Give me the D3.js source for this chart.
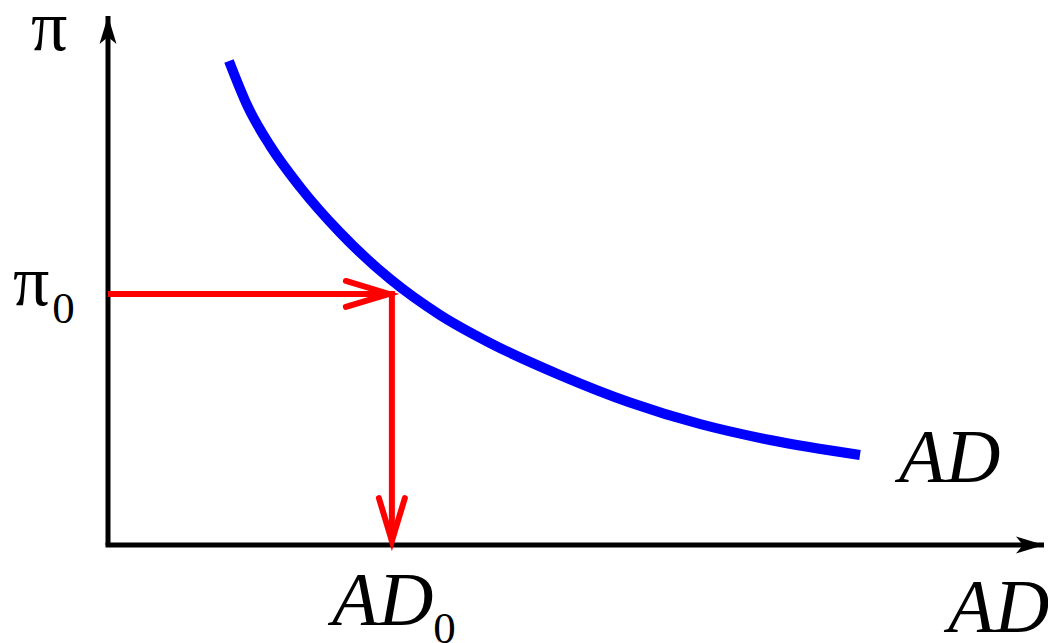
<!DOCTYPE html>
<html>
<head>
<meta charset="utf-8">
<script src="https://cdn.jsdelivr.net/npm/d3@7"></script>
<style>
  body { margin: 0; background: #fff; }
  text { font-family: "Liberation Serif", "Times New Roman", serif; }
</style>
</head>
<body>
<script>
// AD curve (arbitrary units 0..100)
const adX = [12.87, 14.89, 17.23, 20.43, 24.68, 30.0, 35.32, 40.64, 48.09, 55.53, 62.98, 70.43, 80.0];
const adY = [90.81, 82.18, 74.95, 67.17, 58.63, 49.91, 43.15, 37.90, 31.89, 26.74, 22.70, 19.70, 16.89];

const pi0 = 47.1;   // inflation level
const ad0 = 30.2;   // demand at pi0

const width = 1048, height = 643;

const x = d3.scaleLinear().domain([0, 100]).range([108, 1048]);
const y = d3.scaleLinear().domain([0, 100]).range([545, 12]);

const svg = d3.select("body").append("svg")
    .attr("width", width)
    .attr("height", height);

const defs = svg.append("defs");
defs.append("marker")
    .attr("id", "axisHead")
    .attr("markerUnits", "userSpaceOnUse")
    .attr("viewBox", "-30 -10 32 20")
    .attr("refX", 0).attr("refY", 0)
    .attr("markerWidth", 32).attr("markerHeight", 20)
    .attr("orient", "auto")
  .append("path")
    .attr("d", "M0,0 L-28,-8.5 L-21,0 L-28,8.5 Z")
    .attr("fill", "#000");

// axes
svg.append("line")
    .attr("x1", x(0)).attr("y1", y(0))
    .attr("x2", x(0)).attr("y2", y(100) + 4)
    .attr("stroke", "#000").attr("stroke-width", 5)
    .attr("marker-end", "url(#axisHead)");

svg.append("line")
    .attr("x1", x(0) - 2.5).attr("y1", y(0))
    .attr("x2", x(100) - 4).attr("y2", y(0))
    .attr("stroke", "#000").attr("stroke-width", 5)
    .attr("marker-end", "url(#axisHead)");

// AD curve
const line = d3.line()
    .x(function(d) { return x(d[0]); })
    .y(function(d) { return y(d[1]); })
    .curve(d3.curveMonotoneX);

svg.append("path")
    .datum(d3.zip(adX, adY))
    .attr("d", line)
    .attr("fill", "none")
    .attr("stroke", "#0000ff")
    .attr("stroke-width", 10);

// red guides with open arrow heads
const red = svg.append("g")
    .attr("stroke", "#ff0000")
    .attr("stroke-width", 6)
    .attr("fill", "none");

red.append("path")
    .attr("d", "M" + x(0) + "," + y(pi0) + "H" + x(ad0));
red.append("path")
    .attr("d", "M" + x(ad0) + "," + (y(pi0) - 3) + "V" + (y(0) - 3));

function chevron(tx, ty, dx, dy) {
  // tip at (tx,ty), pointing along (dx,dy)
  const len = 43, half = 13;
  const px = -dy, py = dx;
  const bx = tx - dx * len, by = ty - dy * len;
  return "M" + (bx + px * half) + "," + (by + py * half) +
         "L" + tx + "," + ty +
         "L" + (bx - px * half) + "," + (by - py * half);
}

red.append("path")
    .attr("d", chevron(x(ad0) - 3, y(pi0), 1, 0))
    .attr("stroke-linecap", "round");
red.append("path")
    .attr("d", chevron(x(ad0), y(0) - 4, 0, 1))
    .attr("stroke-linecap", "round");

// labels
svg.append("text")
    .attr("x", 31).attr("y", 50)
    .attr("font-size", 72)
    .text("π");

const p0 = svg.append("text")
    .attr("x", 13).attr("y", 305)
    .attr("font-size", 72);
p0.append("tspan").text("π");
p0.append("tspan").attr("font-size", 45).attr("dx", 3).attr("dy", 18).text("0");

const a0 = svg.append("text")
    .attr("x", 332).attr("y", 625)
    .attr("font-size", 76);
a0.append("tspan").attr("font-style", "italic").text("AD");
a0.append("tspan").attr("font-size", 45).attr("dx", 0).attr("dy", 18).text("0");

svg.append("text")
    .attr("x", 899).attr("y", 482)
    .attr("font-size", 76)
    .attr("font-style", "italic")
    .text("AD");

svg.append("text")
    .attr("x", 948).attr("y", 632)
    .attr("font-size", 76)
    .attr("font-style", "italic")
    .text("AD");
</script>
</body>
</html>
